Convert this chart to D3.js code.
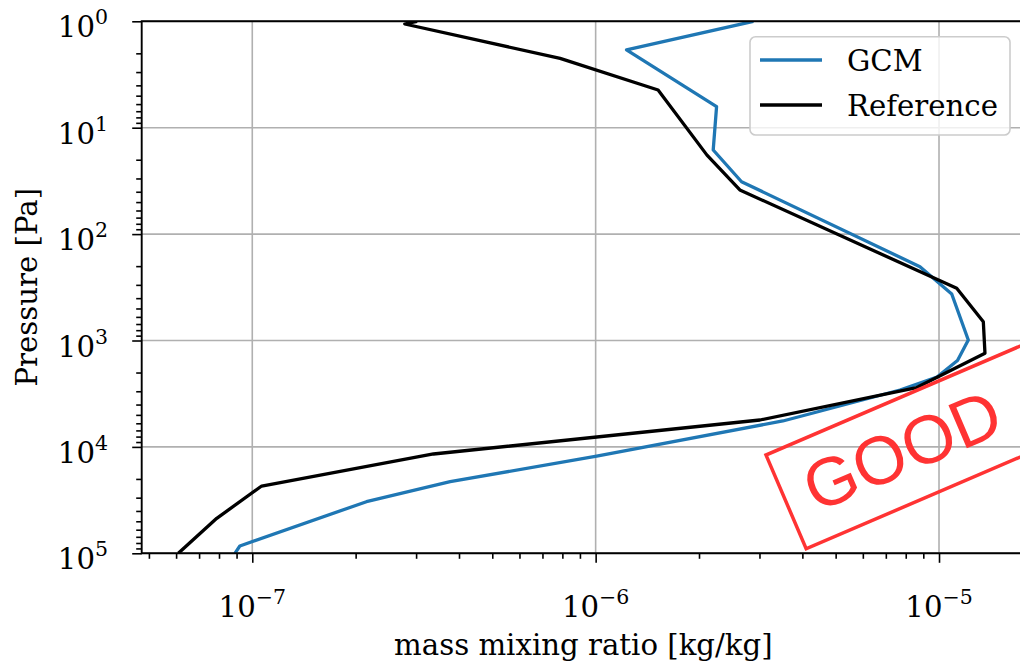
<!DOCTYPE html>
<html>
<head>
<meta charset="utf-8">
<script src="https://cdn.jsdelivr.net/npm/d3@7"></script>
<style>
  body { margin: 0; background: #fff; }
  svg { display: block; font-family: "DejaVu Serif", serif; }
</style>
</head>
<body>
<div class="chart"></div>
<script>
"use strict";

// ---- data ----
const refPressure = [1, 1.06, 2.23, 4.42, 18.1, 38.5, 323, 666, 1319, 2766, 5588, 11660, 23310, 46900, 100000];
const refMmr = [3.02e-7, 2.78e-7, 7.88e-7, 1.52e-6, 2.11e-6, 2.63e-6, 1.126e-5, 1.346e-5, 1.361e-5, 8.61e-6, 3.01e-6, 3.37e-7, 1.065e-7, 7.88e-8, 6.09e-8];

const gcmPressure = [1, 1.86, 6.35, 16.2, 32.2, 202.5, 365.6, 989, 1542, 2203, 2919, 5708, 12180, 21240, 32730, 85370, 100000];
const gcmMmr = [2.88e-6, 1.23e-6, 2.25e-6, 2.20e-6, 2.66e-6, 8.8e-6, 1.089e-5, 1.217e-5, 1.132e-5, 9.87e-6, 7.70e-6, 3.51e-6, 1.007e-6, 3.77e-7, 2.15e-7, 9.2e-8, 8.9e-8];

const xMajorTicks = [1e-7, 1e-6, 1e-5];
const xTickExps = ["\u22127", "\u22126", "\u22125"];
const yMajorTicks = [1e0, 1e1, 1e2, 1e3, 1e4, 1e5];
const yTickExps = ["0", "1", "2", "3", "4", "5"];

const seriesNames = ["GCM", "Reference"];
const seriesColors = ["#1f77b4", "#000000"];

const xLabel = "mass mixing ratio [kg/kg]";
const yLabel = "Pressure [Pa]";
const stampText = "GOOD";

// ---- layout ----
const W = 1020, H = 666;
const plot = {left: 141.7, right: 1025, top: 21.3, bottom: 553.3};
const fontSize = 29.2;
const supSize = 20.5;

const svg = d3.select(".chart").append("svg")
    .attr("width", W)
    .attr("height", H);

const x = d3.scaleLog().domain([4.764e-8, 1.78e-5]).range([plot.left, plot.right]);
const y = d3.scaleLog().domain([1, 1e5]).range([plot.top, plot.bottom]);

// minor ticks: 2..9 of every decade inside the domain
function minors(scale) {
    let out = [];
    let [a, b] = scale.domain();
    for (let e = Math.floor(Math.log10(a)); e <= Math.ceil(Math.log10(b)); e++) {
        for (let k = 2; k <= 9; k++) {
            let v = k * Math.pow(10, e);
            if (v >= a && v <= b) out.push(v);
        }
    }
    return out;
}

// grid
svg.append("g").selectAll("line").data(xMajorTicks).join("line")
    .attr("x1", d => x(d)).attr("x2", d => x(d))
    .attr("y1", plot.top).attr("y2", plot.bottom)
    .attr("stroke", "#b0b0b0").attr("stroke-width", 1.6);
svg.append("g").selectAll("line").data(yMajorTicks).join("line")
    .attr("x1", plot.left).attr("x2", plot.right)
    .attr("y1", d => y(d)).attr("y2", d => y(d))
    .attr("stroke", "#b0b0b0").attr("stroke-width", 1.6);

// data lines, clipped to the axes box
svg.append("clipPath").attr("id", "plotclip").append("rect")
    .attr("x", plot.left).attr("y", plot.top)
    .attr("width", plot.right - plot.left).attr("height", plot.bottom - plot.top);

const series = [
    {name: seriesNames[0], color: seriesColors[0], pts: d3.zip(gcmMmr, gcmPressure)},
    {name: seriesNames[1], color: seriesColors[1], pts: d3.zip(refMmr, refPressure)}
];

const line = d3.line().x(d => x(d[0])).y(d => y(d[1]));

svg.append("g").attr("clip-path", "url(#plotclip)")
    .selectAll("path").data(series).join("path")
    .attr("d", d => line(d.pts))
    .attr("fill", "none")
    .attr("stroke", d => d.color)
    .attr("stroke-width", 3.3)
    .attr("stroke-linejoin", "round");

// axes (ticks only, spines drawn below)
function styleAxis(g) {
    g.select(".domain").remove();
    g.selectAll(".tick line").attr("stroke", "#000").attr("stroke-width", 1.6);
}
svg.append("g").attr("transform", `translate(0,${plot.bottom})`)
    .call(d3.axisBottom(x).tickValues(xMajorTicks).tickSize(9.5).tickSizeOuter(0).tickFormat(""))
    .call(styleAxis);
svg.append("g").attr("transform", `translate(0,${plot.bottom})`)
    .call(d3.axisBottom(x).tickValues(minors(x)).tickSize(5.5).tickSizeOuter(0).tickFormat(""))
    .call(styleAxis);
svg.append("g").attr("transform", `translate(${plot.left},0)`)
    .call(d3.axisLeft(y).tickValues(yMajorTicks).tickSize(9.5).tickSizeOuter(0).tickFormat(""))
    .call(styleAxis);
svg.append("g").attr("transform", `translate(${plot.left},0)`)
    .call(d3.axisLeft(y).tickValues(minors(y)).tickSize(5.5).tickSizeOuter(0).tickFormat(""))
    .call(styleAxis);

// spines
svg.append("path")
    .attr("d", `M${plot.right + 5},${plot.top}H${plot.left}V${plot.bottom}H${plot.right + 5}`)
    .attr("fill", "none").attr("stroke", "#000").attr("stroke-width", 1.9);

// tick labels as 10^n
function powerLabel(sel, exps) {
    sel.append("tspan").text("10");
    sel.append("tspan")
        .attr("dy", -13)
        .style("font-size", supSize + "px")
        .text((d, i) => exps[i]);
}

svg.append("g").selectAll("text").data(xMajorTicks).join("text")
    .attr("x", d => x(d))
    .attr("y", 617)
    .attr("text-anchor", "middle")
    .style("font-size", fontSize + "px")
    .call(powerLabel, xTickExps);

svg.append("g").selectAll("text").data(yMajorTicks).join("text")
    .attr("x", 108)
    .attr("y", d => y(d) + 16)
    .attr("text-anchor", "end")
    .style("font-size", fontSize + "px")
    .call(powerLabel, yTickExps);

// axis labels
svg.append("text")
    .attr("x", (plot.left + plot.right) / 2)
    .attr("y", 655)
    .attr("text-anchor", "middle")
    .style("font-size", fontSize + "px")
    .text(xLabel);

svg.append("text")
    .attr("transform", `translate(37,${(plot.top + plot.bottom) / 2}) rotate(-90)`)
    .attr("text-anchor", "middle")
    .style("font-size", fontSize + "px")
    .text(yLabel);

// legend
let legend = svg.append("g");
legend.append("rect")
    .attr("x", 750).attr("y", 36.7)
    .attr("width", 260).attr("height", 98.3)
    .attr("rx", 5.6)
    .attr("fill", "#fff").attr("fill-opacity", 0.8)
    .attr("stroke", "#cccccc").attr("stroke-width", 1.6);

let items = legend.selectAll("g.item").data(series).join("g")
    .attr("class", "item")
    .attr("transform", (d, i) => `translate(0,${60 + i * 45})`);
items.append("line")
    .attr("x1", 760).attr("x2", 822)
    .attr("stroke", d => d.color).attr("stroke-width", 3.3);
items.append("text")
    .attr("x", 847).attr("y", 10.5)
    .style("font-size", fontSize + "px")
    .text(d => d.name);

// red stamp on top
let stamp = svg.append("g")
    .attr("transform", "translate(766,455) rotate(-23.2)");
stamp.append("rect")
    .attr("x", 0).attr("y", 0)
    .attr("width", 320).attr("height", 102)
    .attr("fill", "none")
    .attr("stroke", "#ff3333").attr("stroke-width", 3.5);
stamp.append("text")
    .attr("x", 127).attr("y", 73)
    .attr("text-anchor", "middle")
    .style("font-family", "'Liberation Sans', Arial, sans-serif")
    .style("font-size", "68px")
    .attr("fill", "#ff3333")
    .text(stampText);
</script>
</body>
</html>
